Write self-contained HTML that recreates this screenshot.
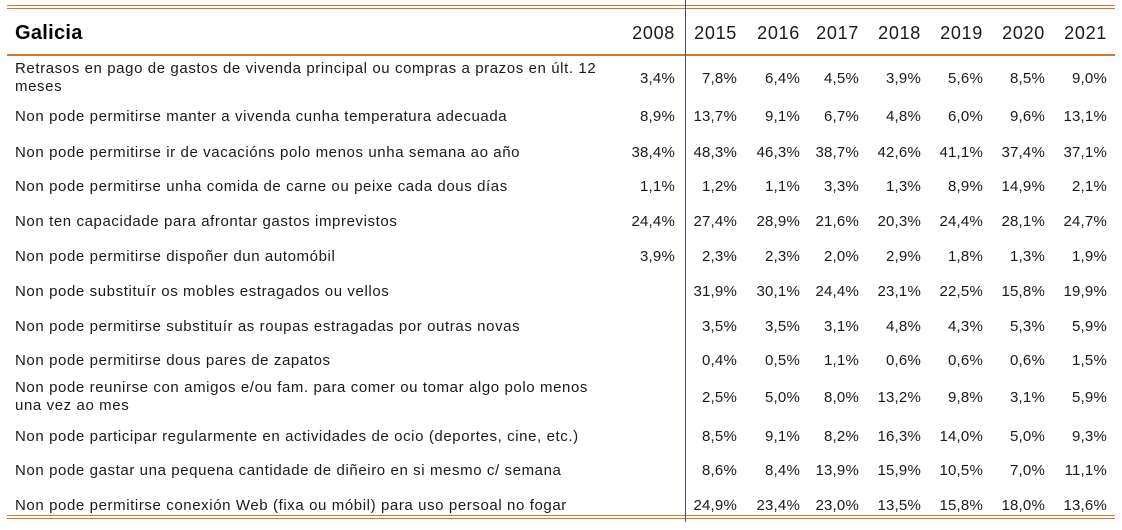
<!DOCTYPE html>
<html><head><meta charset="utf-8"><style>
body{margin:0;width:1122px;height:530px;background:#fff;position:relative;overflow:hidden;font-family:"Liberation Sans",sans-serif;color:#1a1a1a}
.l{position:absolute;left:15px;font-size:15px;letter-spacing:0.6px;line-height:18px;white-space:nowrap}
.v{position:absolute;font-size:15px;letter-spacing:0.2px;line-height:18px;text-align:right;width:70px}
.h{position:absolute;font-size:18px;letter-spacing:0.7px;line-height:20px;text-align:right;width:70px;top:23px}
.hr{position:absolute;left:7px;width:1108px;background:#d9752a}
</style></head><body>
<div class="hr" style="top:5px;height:1px"></div>
<div class="hr" style="top:8px;height:1px"></div>
<div class="hr" style="top:54px;height:2px"></div>
<div class="hr" style="top:515px;height:1px"></div>
<div class="hr" style="top:518px;height:1px"></div>
<div style="position:absolute;left:685px;top:0;width:1px;height:522px;background:#44546a"></div>
<div style="position:absolute;left:15px;top:22px;font-size:20px;font-weight:bold;color:#000;letter-spacing:0.3px">Galicia</div>
<div id="c"></div>
<script>
var xs=[675,737,800,859,921,983,1045,1107];
var yrs=["2008","2015","2016","2017","2018","2019","2020","2021"];
var h="";
yrs.forEach(function(y,i){h+='<div class="h" style="left:'+(xs[i]-70)+'px">'+y+'</div>';});
var rows=[
[77,"Retrasos en pago de gastos de vivenda principal ou compras a prazos en últ. 12<br>meses",["3,4%","7,8%","6,4%","4,5%","3,9%","5,6%","8,5%","9,0%"]],
[115,"Non pode permitirse manter a vivenda cunha temperatura adecuada",["8,9%","13,7%","9,1%","6,7%","4,8%","6,0%","9,6%","13,1%"]],
[151,"Non pode permitirse ir de vacacións polo menos unha semana ao año",["38,4%","48,3%","46,3%","38,7%","42,6%","41,1%","37,4%","37,1%"]],
[185,"Non pode permitirse unha comida de carne ou peixe cada dous días",["1,1%","1,2%","1,1%","3,3%","1,3%","8,9%","14,9%","2,1%"]],
[220,"Non ten capacidade para afrontar gastos imprevistos",["24,4%","27,4%","28,9%","21,6%","20,3%","24,4%","28,1%","24,7%"]],
[255,"Non pode permitirse dispoñer dun automóbil",["3,9%","2,3%","2,3%","2,0%","2,9%","1,8%","1,3%","1,9%"]],
[290,"Non pode substituír os mobles estragados ou vellos",["","31,9%","30,1%","24,4%","23,1%","22,5%","15,8%","19,9%"]],
[325,"Non pode permitirse substituír as roupas estragadas por outras novas",["","3,5%","3,5%","3,1%","4,8%","4,3%","5,3%","5,9%"]],
[359,"Non pode permitirse dous pares de zapatos",["","0,4%","0,5%","1,1%","0,6%","0,6%","0,6%","1,5%"]],
[396,"Non pode reunirse con amigos e/ou fam. para comer ou tomar algo polo menos<br>una vez ao mes",["","2,5%","5,0%","8,0%","13,2%","9,8%","3,1%","5,9%"]],
[435,"Non pode participar regularmente en actividades de ocio (deportes, cine, etc.)",["","8,5%","9,1%","8,2%","16,3%","14,0%","5,0%","9,3%"]],
[469,"Non pode gastar una pequena cantidade de diñeiro en si mesmo c/ semana",["","8,6%","8,4%","13,9%","15,9%","10,5%","7,0%","11,1%"]],
[504,"Non pode permitirse conexión Web (fixa ou móbil) para uso persoal no fogar",["","24,9%","23,4%","23,0%","13,5%","15,8%","18,0%","13,6%"]]];
rows.forEach(function(r){
 var two=r[1].indexOf("<br>")>=0;
 h+='<div class="l" style="top:'+(r[0]-(two?17:7))+'px">'+r[1]+'</div>';
 r[2].forEach(function(v,i){h+='<div class="v" style="left:'+(xs[i]-70)+'px;top:'+(r[0]-7)+'px">'+v+'</div>';});
});
document.getElementById("c").innerHTML=h;
</script>
</body></html>
